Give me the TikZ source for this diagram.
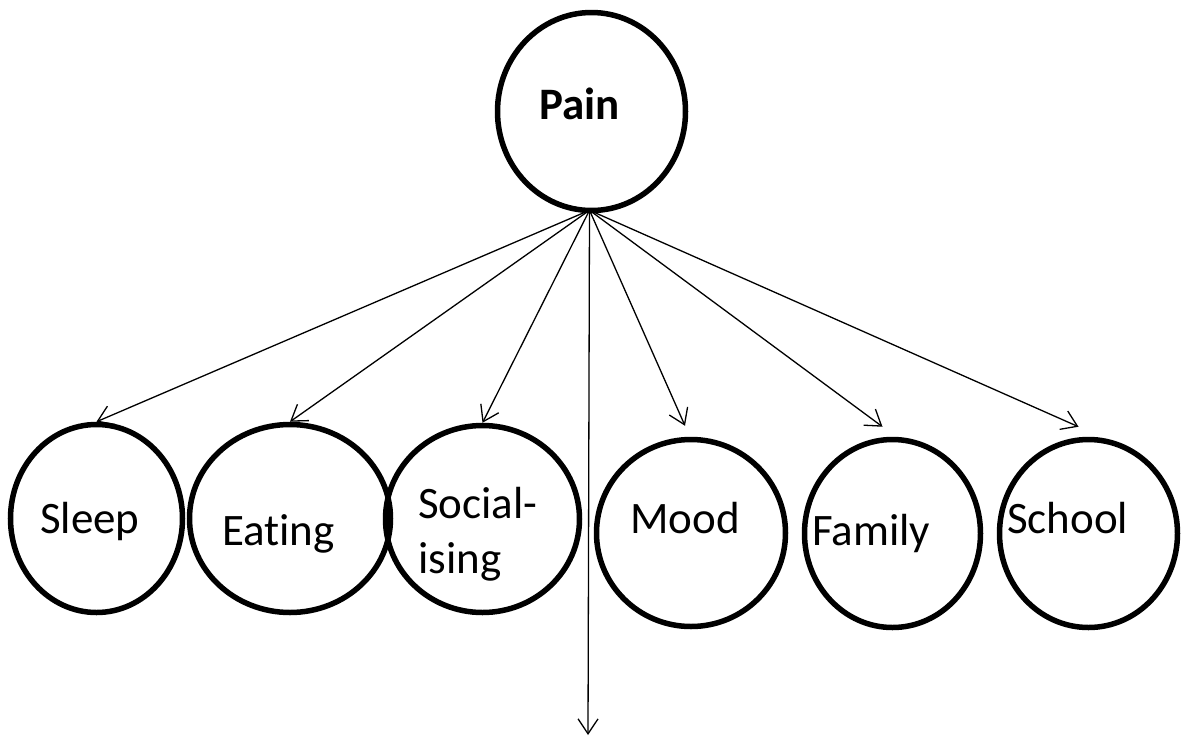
\documentclass[tikz,border=0pt]{standalone}
\usepackage{fontspec}
\setmainfont{Carlito}[Ligatures=NoCommon]
\usetikzlibrary{shapes.geometric, arrows.meta, positioning}

\begin{document}
\begin{tikzpicture}[x=1pt, y=-1pt, >={Straight Barb[length=15pt, width=20pt]},
    bubble/.style={draw, ellipse, line width=5.5pt, inner sep=0pt},
    word/.style={anchor=base west, inner sep=0pt, align=left, font=\fontsize{45}{55}\selectfont},
    link/.style={->, line width=1.3pt}]
    \useasboundingbox (0,0) rectangle (1187,737);

    \node[bubble, minimum width=188pt, minimum height=198pt] (pain) at (591.5,111.5) {};

    \node[bubble, minimum width=172pt, minimum height=188pt] (sleep) at (96.5,518.5) {};
    \node[bubble, minimum width=201pt, minimum height=188pt, right of=sleep, node distance=193.5pt] (eating) {};
    \node[bubble, minimum width=194pt, minimum height=187pt, right of=eating, node distance=192.5pt, yshift=-0.5pt] (social) {};
    \node[bubble, minimum width=189pt, minimum height=187pt, right of=social, node distance=208.5pt, yshift=-14pt] (mood) {};
    \node[bubble, minimum width=176pt, minimum height=188pt, right of=mood, node distance=201.5pt, yshift=-0.5pt] (family) {};
    \node[bubble, minimum width=178pt, minimum height=188pt, right of=family, node distance=196pt] (school) {};

    \node[word] (paintxt) at (539,119) {\bfseries Pain};
    \node[word] (sleeptxt) at (40,533) {Sleep};
    \node[word] (eatingtxt) at (222,545) {Eating};
    \node[word] (socialtxt) at (418,573) {Social-\\ising};
    \node[word] (moodtxt) at (630,533) {Mood};
    \node[word] (familytxt) at (812,545) {Family};
    \node[word] (schooltxt) at (1007,533) {School};

    \coordinate (hub) at ([xshift=-2pt, yshift=3pt]pain.south);
    \coordinate (below) at (588,735);

    \draw[link] (hub) -- (sleep.north);
    \draw[link] (hub) -- (eating.north);
    \draw[link] (hub) -- (social.north);
    \draw[link] (hub) -- (below);
    \draw[link] (hub) -- ([xshift=-6pt, yshift=11pt]mood.north);
    \draw[link] (hub) -- ([xshift=-10pt, yshift=10pt]family.north);
    \draw[link] (hub) -- ([xshift=-10pt, yshift=10pt]school.north);
\end{tikzpicture}
\end{document}
